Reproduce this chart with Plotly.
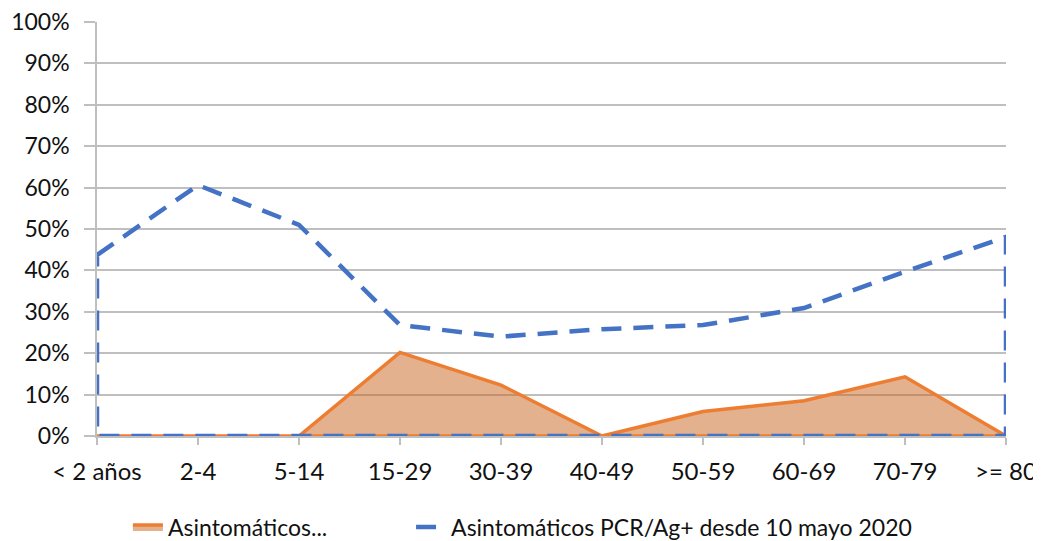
import plotly.graph_objects as go

categories = ["< 2 años", "2-4", "5-14", "15-29", "30-39", "40-49", "50-59", "60-69", "70-79", ">= 80"]
asinto_short = [0.0, 0.0, 0.0, 0.202, 0.123, 0.0, 0.059, 0.085, 0.143, 0.0]
asinto_pcr = [0.437, 0.606, 0.51, 0.268, 0.24, 0.258, 0.268, 0.309, 0.397, 0.481]
name_short = "Asintomáticos..."
name_pcr = "Asintomáticos PCR/Ag+ desde 10 mayo 2020"

def polygon(vals):
    xs = list(categories) + list(reversed(categories)) + [categories[0]]
    ys = list(vals) + [0.0] * len(vals) + [vals[0]]
    return xs, ys

fig = go.Figure()
ox, oy = polygon(asinto_short)
fig.add_trace(go.Scatter(x=ox, y=oy, mode="lines", fill="toself", name=name_short,
                         fillcolor="rgba(200,100,30,0.5)", legend="legend",
                         line=dict(color="#ED7D31", width=3.5)))
bx, by = polygon(asinto_pcr)
fig.add_trace(go.Scatter(x=bx, y=by, mode="lines", fill="none", name=name_pcr, legend="legend2",
                         line=dict(color="#4472C4", width=4.5, dash="20px,12px")))

fig.update_layout(
    width=1041, height=541,
    margin=dict(l=89, r=43, t=14, b=113, autoexpand=False),
    paper_bgcolor="white", plot_bgcolor="white",
    font=dict(family="Lato, 'Open Sans', sans-serif", size=23, color="#111111"),
    legend=dict(orientation="h", x=0.034, xanchor="left", y=-0.22, yanchor="middle",
                font=dict(size=23), itemwidth=30),
    legend2=dict(orientation="h", x=0.3455, xanchor="left", y=-0.22, yanchor="middle",
                 font=dict(size=23), itemwidth=30),
    showlegend=True,
)
fig.update_xaxes(type="category", categoryorder="array", categoryarray=categories,
                 range=[0, 9], showgrid=False, showline=True, linecolor="#BFBFBF", linewidth=1.5,
                 ticks="outside", ticklen=7, tickcolor="#BFBFBF", tickwidth=1.5, zeroline=False,
                 automargin=False, ticklabelstandoff=6, tickfont=dict(size=24),
                 ticklabeloverflow="allow")
fig.update_yaxes(range=[0, 1], dtick=0.1, tickformat=".0%", showgrid=True, gridcolor="#BFBFBF",
                 gridwidth=1.5, showline=True, linecolor="#BFBFBF", linewidth=1.5,
                 ticks="outside", ticklen=11, tickcolor="#BFBFBF", tickwidth=1.5, zeroline=False,
                 ticklabelstandoff=10, automargin=False, ticklabeloverflow="allow")

fig.write_html("out.html")
